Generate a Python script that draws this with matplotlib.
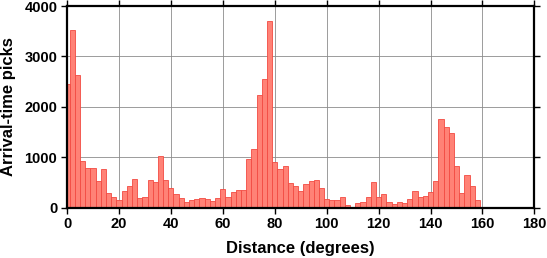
import numpy as np
import matplotlib
matplotlib.use("Agg")
import matplotlib.pyplot as plt

plt.rcParams['font.family'] = ['Liberation Sans', 'DejaVu Sans']

bin_centers = list(range(0, 182, 2))
picks = [2450, 3520, 2625, 915, 790, 790, 520, 770, 285, 200,
         140, 320, 420, 560, 190, 200, 540, 500, 1020, 540,
         380, 260, 180, 100, 140, 160, 185, 160, 120, 180,
         360, 200, 300, 340, 340, 955, 1155, 2230, 2545, 3700,
         895, 770, 820, 490, 420, 320, 460, 520, 540, 380,
         160, 150, 140, 200, 40, 20, 80, 100, 210, 500,
         200, 260, 105, 60, 105, 85, 160, 320, 200, 225,
         300, 520, 1750, 1600, 1470, 820, 280, 640, 420, 140,
         20, 15, 10, 8, 6, 5, 3, 0, 0, 0, 0]
x_ticks = [0, 20, 40, 60, 80, 100, 120, 140, 160, 180]
y_ticks = [0, 1000, 2000, 3000, 4000]

fig = plt.figure(figsize=(5.47, 2.58), dpi=100)
ax = fig.add_axes([0.1225, 0.1957, 0.977 - 0.1225, 0.9767 - 0.1957])

ax.bar(bin_centers, picks, width=2, facecolor='#FF8276', edgecolor='#F24A42',
       linewidth=0.6, zorder=2)

ax.set_xlim(0, 180)
ax.set_ylim(0, 4000)
ax.set_xticks(x_ticks)
ax.set_yticks(y_ticks)
ax.grid(True, color='#8c8c8c', linewidth=0.6, zorder=0)
ax.set_axisbelow(True)

for s in ax.spines.values():
    s.set_linewidth(1.6)
    s.set_color('black')

ax.tick_params(direction='out', length=4, width=1, top=True, right=True,
               labeltop=False, labelright=False, labelsize=10.5, pad=3)
for lab in ax.get_xticklabels() + ax.get_yticklabels():
    lab.set_fontweight('bold')

ax.set_xlabel('Distance (degrees)', fontsize=12, fontweight='bold', labelpad=7)
ax.set_ylabel('Arrival-time picks', fontsize=12, fontweight='bold', labelpad=6)

fig.savefig('out.png', dpi=100)
